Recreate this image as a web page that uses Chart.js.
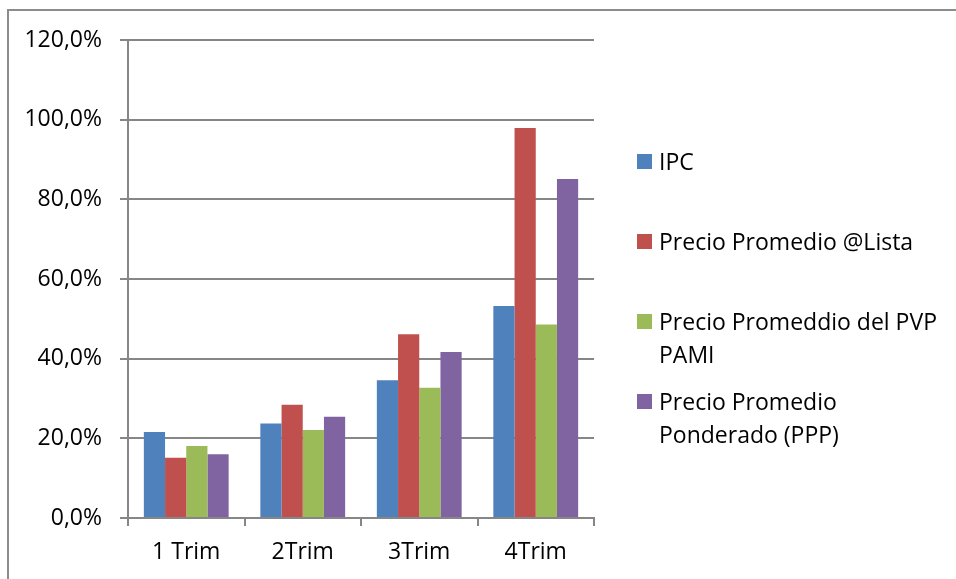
<!DOCTYPE html>
<html>
<head>
<meta charset="utf-8">
<script src="https://cdn.jsdelivr.net/npm/chart.js@4"></script>
<style>
    html, body { margin: 0; padding: 0; background: #fff; }
    #wrap { position: relative; width: 956px; height: 579px; overflow: hidden; }
    #frame { position: absolute; left: 7px; top: 9px; right: -5px; bottom: -5px;
             border-top: 2px solid #8c8c8c; border-left: 2px solid #8c8c8c; }
    canvas { position: absolute; left: 0; top: 0; }
    .leg { position: absolute; left: 637px; font-family: "Open Sans", sans-serif;
           font-size: 23px; line-height: 33px; color: #000; }
    .leg .sw { position: absolute; left: 0; top: 9px; width: 15px; height: 15px; }
    .leg .tx { position: absolute; left: 22px; top: 0; white-space: nowrap; }
</style>
</head>
<body>
<div id="wrap">
    <div id="frame"></div>
    <canvas id="bar-chart" width="956" height="579"></canvas>
    <div id="legend"></div>
</div>
<script>
// Categories and series
const quarters = ['1 Trim', '2Trim', '3Trim', '4Trim'];
const ipc = [21.6, 23.7, 34.6, 53.2];
const precioLista = [15.1, 28.4, 46.1, 97.9];
const precioPami = [18.1, 22.1, 32.7, 48.6];
const precioPonderado = [16.0, 25.4, 41.7, 85.1];

const seriesNames = [
    ['IPC'],
    ['Precio Promedio @Lista'],
    ['Precio Promeddio del PVP', 'PAMI'],
    ['Precio Promedio', 'Ponderado (PPP)']
];
const seriesColors = ['#4F81BD', '#C0504D', '#9BBB59', '#8064A2'];
const yTicks = [0, 20, 40, 60, 80, 100, 120];

const fontFamily = '"Open Sans", sans-serif';
const gridGray = '#868686';

function makeDataset(i, values) {
    return {
        label: seriesNames[i].join(' '),
        data: values,
        backgroundColor: seriesColors[i],
        borderWidth: 0,
        barPercentage: 1.0,
        categoryPercentage: 0.728
    };
}

const ctx = document.getElementById('bar-chart').getContext('2d');
const barChart = new Chart(ctx, {
    type: 'bar',
    data: {
        labels: quarters,
        datasets: [
            makeDataset(0, ipc),
            makeDataset(1, precioLista),
            makeDataset(2, precioPami),
            makeDataset(3, precioPonderado)
        ]
    },
    options: {
        responsive: false,
        animation: false,
        layout: { padding: { top: 40, right: 362, bottom: 0, left: 0 } },
        plugins: {
            legend: { display: false },
            tooltip: { enabled: false }
        },
        scales: {
            x: {
                afterFit: s => { s.height = 61; },
                grid: {
                    offset: true,
                    drawOnChartArea: false,
                    drawTicks: true,
                    tickLength: 8,
                    color: gridGray,
                    lineWidth: 2
                },
                border: { color: gridGray, width: 2 },
                ticks: {
                    color: '#000',
                    padding: 13,
                    font: { family: fontFamily, size: 23 }
                }
            },
            y: {
                min: 0,
                max: 120,
                afterFit: s => { s.width = 128; },
                afterBuildTicks: s => { s.ticks = yTicks.map(v => ({ value: v })); },
                grid: {
                    color: gridGray,
                    lineWidth: 2,
                    tickLength: 8
                },
                border: { color: gridGray, width: 2 },
                ticks: {
                    color: '#000',
                    padding: 18,
                    font: { family: fontFamily, size: 23 },
                    callback: v => v.toFixed(1).replace('.', ',') + '%'
                }
            }
        }
    }
});

// Legend on the right, built from the chart's datasets
const legendBox = document.getElementById('legend');
barChart.data.datasets.forEach((ds, i) => {
    const item = document.createElement('div');
    item.className = 'leg';
    item.style.top = (145 + i * 80) + 'px';
    const sw = document.createElement('div');
    sw.className = 'sw';
    sw.style.background = ds.backgroundColor;
    const tx = document.createElement('div');
    tx.className = 'tx';
    tx.innerHTML = seriesNames[i].join('<br>');
    item.appendChild(sw);
    item.appendChild(tx);
    legendBox.appendChild(item);
});
</script>
</body>
</html>
